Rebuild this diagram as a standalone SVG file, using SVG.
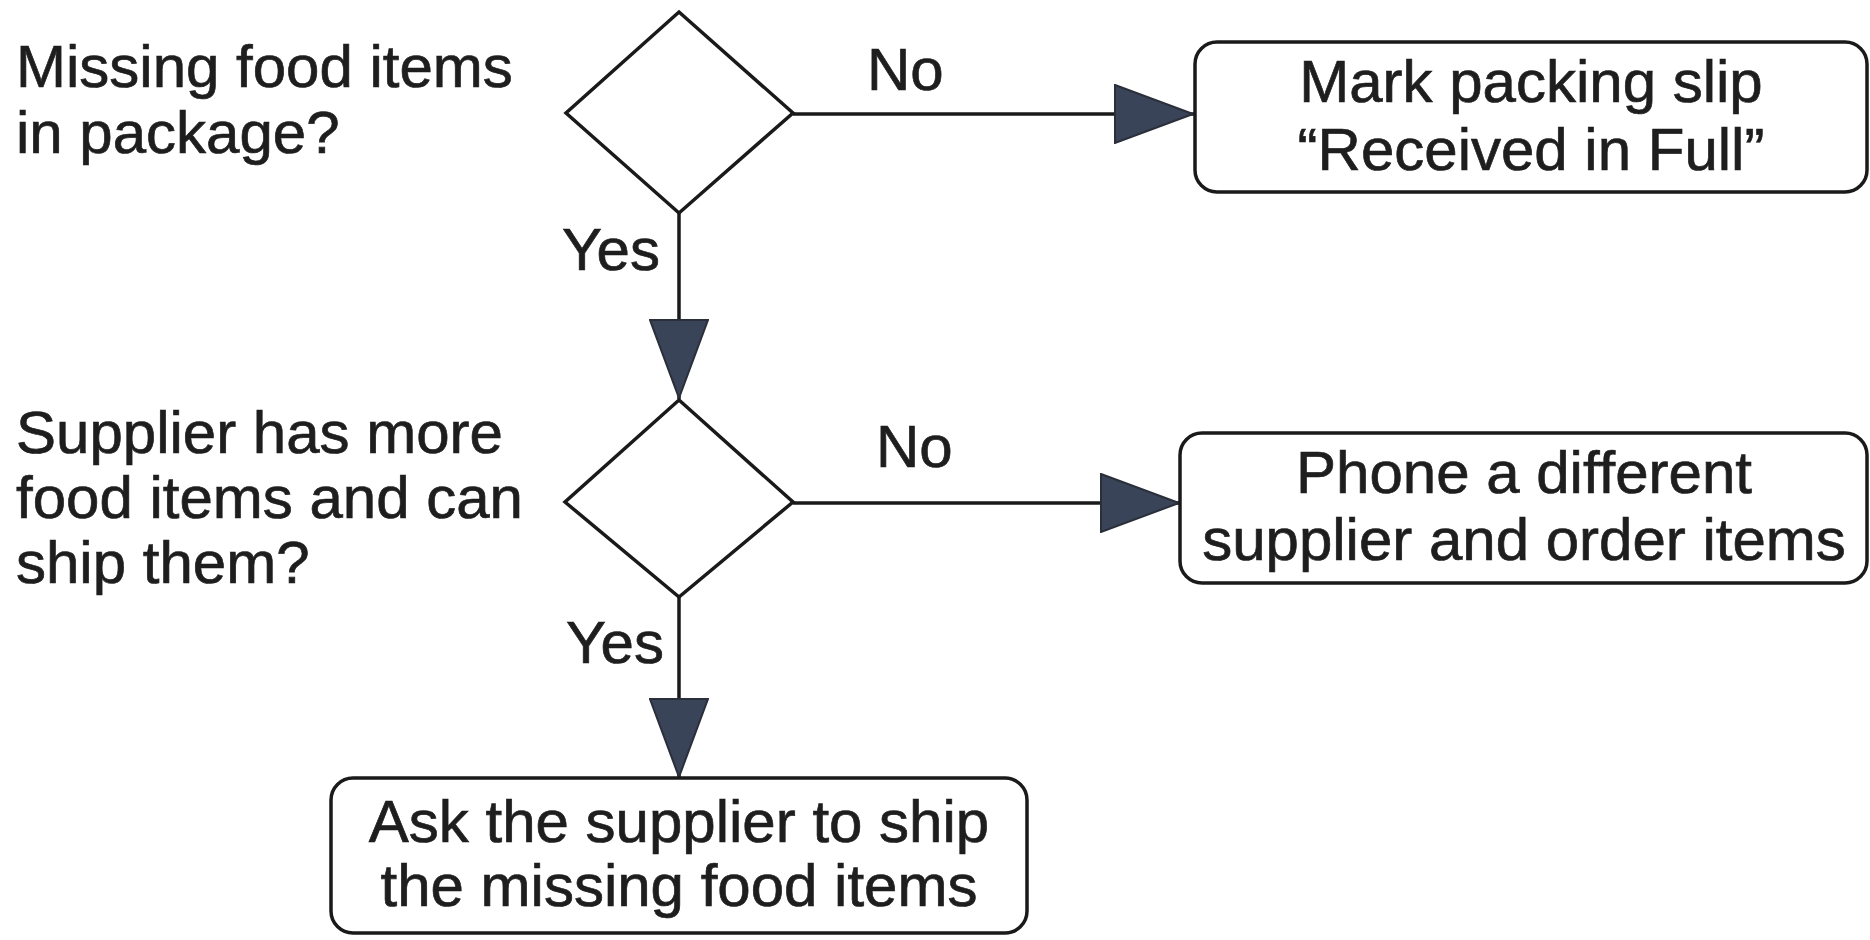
<svg xmlns="http://www.w3.org/2000/svg" width="1870" height="940" viewBox="0 0 1870 940">
  <style>
    .label { font-family: "Liberation Sans", Arial, Helvetica, sans-serif; font-size: 60px; fill: #1e1e1e; stroke: #1e1e1e; stroke-width: 0.7; }
    .mid { text-anchor: middle; }
    .shape { fill: #ffffff; stroke: #1a1a1a; stroke-width: 3.5; }
    .edge { fill: none; stroke: #1a1a1a; stroke-width: 3.5; marker-end: url(#arrow); }
  </style>
  <defs>
    <marker id="arrow" viewBox="0 0 80 60" markerWidth="80" markerHeight="60" refX="80" refY="30" orient="auto" markerUnits="userSpaceOnUse">
      <path d="M1,1 L79,30 L1,59 Z" fill="#3a4458" stroke="#2a2f3a" stroke-width="2" stroke-linejoin="miter"/>
    </marker>
  </defs>

  <rect width="1870" height="940" fill="#ffffff"/>

  <!-- connectors -->
  <g id="connectors">
    <path class="edge" d="M793,114 L1194,114"/>
    <path class="edge" d="M679,213 L679,399"/>
    <path class="edge" d="M793,503 L1180,503"/>
    <path class="edge" d="M679,597 L679,778"/>
    <text class="label" x="867" y="90">No</text>
    <text class="label" x="562" y="270">Yes</text>
    <text class="label" x="876" y="467">No</text>
    <text class="label" x="566" y="663">Yes</text>
  </g>

  <!-- decision: missing items -->
  <g id="decision-missing">
    <polygon class="shape" points="679,12 793,113 679,213 566,113"/>
    <text class="label" x="16" y="87">Missing food items</text>
    <text class="label" x="16" y="153">in package?</text>
  </g>

  <!-- outcome: received in full -->
  <g id="mark-full">
    <rect class="shape" x="1195" y="42" width="672" height="150" rx="22" ry="22"/>
    <text class="label mid" x="1531" y="102">Mark packing slip</text>
    <text class="label mid" x="1531" y="170">“Received in Full”</text>
  </g>

  <!-- decision: supplier can ship -->
  <g id="decision-supplier">
    <polygon class="shape" points="679,400 793,502 679,597 565,502"/>
    <text class="label" x="16" y="453">Supplier has more</text>
    <text class="label" x="16" y="518">food items and can</text>
    <text class="label" x="16" y="583">ship them?</text>
  </g>

  <!-- outcome: other supplier -->
  <g id="phone-other">
    <rect class="shape" x="1180" y="433" width="687" height="150" rx="22" ry="22"/>
    <text class="label mid" x="1524" y="493">Phone a different</text>
    <text class="label mid" x="1524" y="560">supplier and order items</text>
  </g>

  <!-- outcome: ask supplier -->
  <g id="ask-supplier">
    <rect class="shape" x="331" y="778" width="696" height="155" rx="22" ry="22"/>
    <text class="label mid" x="679" y="842">Ask the supplier to ship</text>
    <text class="label mid" x="679" y="906">the missing food items</text>
  </g>
</svg>
